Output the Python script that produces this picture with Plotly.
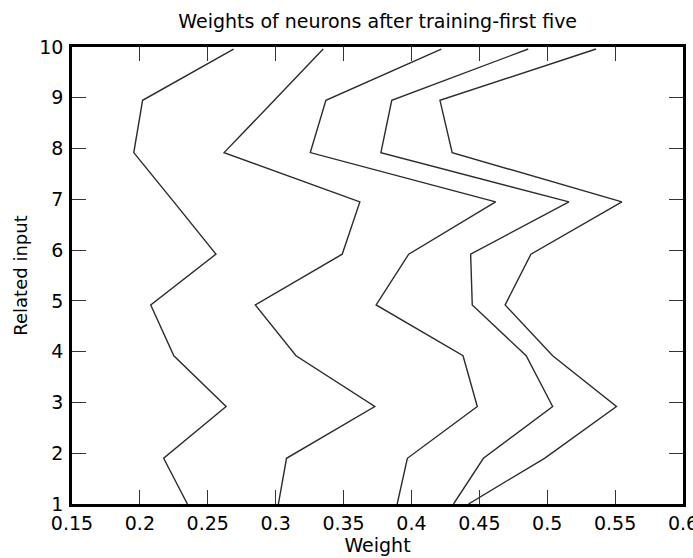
import plotly.graph_objects as go

related_input = [1, 1.9, 2.92, 3.92, 4.92, 5.92, 6.95, 7.92, 8.95, 9.96]
neuron_1 = [0.235, 0.2175, 0.2635, 0.225, 0.208, 0.256, 0.225, 0.1955, 0.202, 0.269]
neuron_2 = [0.302, 0.308, 0.373, 0.315, 0.285, 0.349, 0.362, 0.262, 0.299, 0.335]
neuron_3 = [0.3895, 0.397, 0.4485, 0.438, 0.374, 0.398, 0.462, 0.3255, 0.337, 0.422]
neuron_4 = [0.431, 0.453, 0.504, 0.4845, 0.4448, 0.4436, 0.516, 0.3775, 0.3855, 0.486]
neuron_5 = [0.442, 0.498, 0.551, 0.504, 0.469, 0.488, 0.555, 0.43, 0.421, 0.536]

x_ticks = [0.15, 0.2, 0.25, 0.3, 0.35, 0.4, 0.45, 0.5, 0.55, 0.6]
x_tick_text = ["0.15", "0.2", "0.25", "0.3", "0.35", "0.4", "0.45", "0.5", "0.55", "0.6"]
y_ticks = [1, 2, 3, 4, 5, 6, 7, 8, 9, 10]

FONT = "DejaVu Sans"

fig = go.Figure()
for series in [neuron_1, neuron_2, neuron_3, neuron_4, neuron_5]:
    fig.add_trace(go.Scatter(
        x=series, y=related_input, mode="lines",
        line=dict(color="#2b2b2b", width=1.4),
        showlegend=False, hoverinfo="x+y",
    ))

fig.update_layout(
    width=693, height=558,
    margin=dict(l=72, r=10, t=47, b=54, autoexpand=False),
    paper_bgcolor="white", plot_bgcolor="white",
    font=dict(family=FONT, size=18, color="black"),
    title=dict(text="Weights of neurons after training-first five",
               x=0.545, xanchor="center", y=0.962, yanchor="middle",
               font=dict(family=FONT, size=19, color="black")),
    showlegend=False,
)
fig.update_xaxes(
    range=[0.15, 0.6], tickmode="array", tickvals=x_ticks, ticktext=x_tick_text,
    ticks="inside", ticklen=14, tickwidth=1, tickcolor="#333",
    showline=True, linewidth=2.5, linecolor="black", mirror="ticks",
    showgrid=False, zeroline=False, ticklabeloverflow="allow",
    tickfont=dict(family=FONT, size=19, color="black"),
    title=dict(text="Weight", font=dict(family=FONT, size=19, color="black"), standoff=5),
)
fig.update_yaxes(
    range=[1, 10], tickmode="array", tickvals=y_ticks,
    ticks="inside", ticklen=14, tickwidth=1, tickcolor="#333",
    showline=True, linewidth=2.5, linecolor="black", mirror="ticks",
    showgrid=False, zeroline=False, ticklabelstandoff=2,
    tickfont=dict(family=FONT, size=19, color="black"),
    title=dict(text="Related input", font=dict(family=FONT, size=18, color="black"), standoff=7),
)

fig.write_html("out.html", config={"displayModeBar": False},
               post_script="document.body.style.margin='0';document.body.style.padding='0';")
